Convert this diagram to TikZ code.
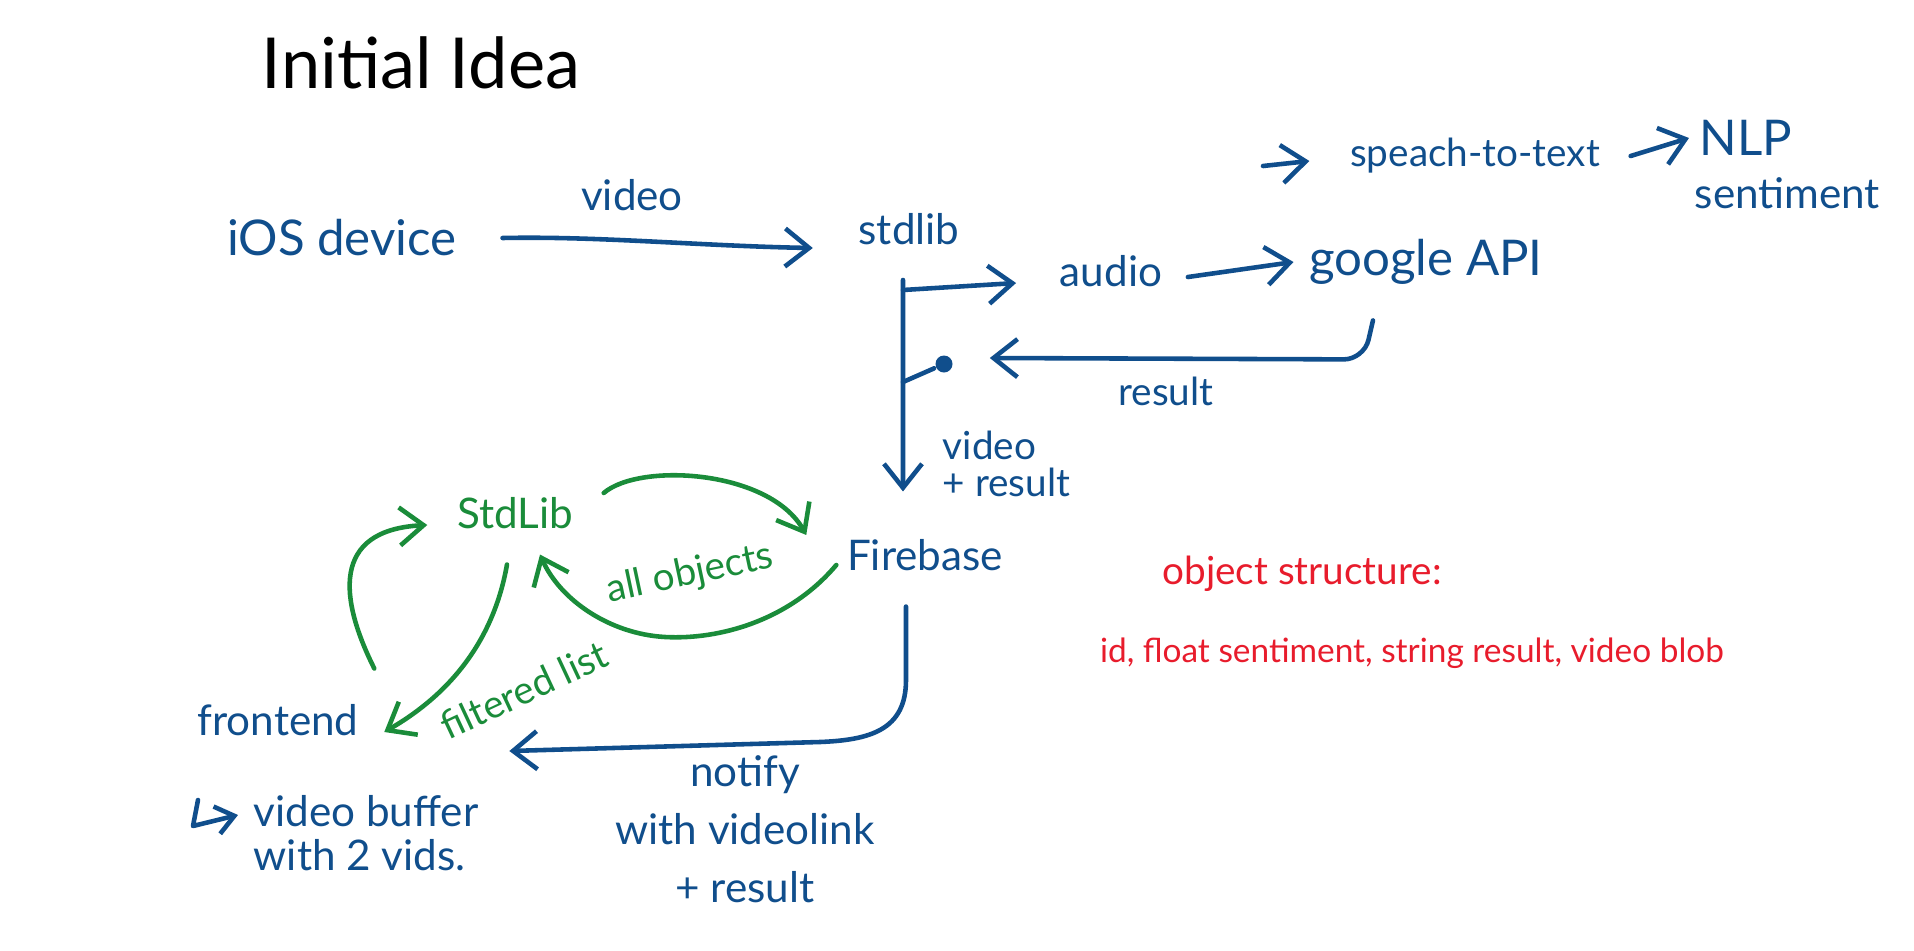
\documentclass[tikz,border=0pt]{standalone}
\usepackage{fontspec}
\setmainfont{Lato}
\usetikzlibrary{arrows.meta,positioning}
\definecolor{inkblue}{RGB}{16,78,140}
\definecolor{inkgreen}{RGB}{26,140,58}
\definecolor{inkred}{RGB}{232,28,44}

\begin{document}
\begin{tikzpicture}[x=0.01cm,y=-0.01cm,line width=1.3pt,line cap=round,line join=round,
  txt/.style={inner sep=1pt,text=inkblue,font=\fontsize{12}{14}\selectfont},
  big/.style={txt,font=\fontsize{14}{16}\selectfont},
  lbl/.style={txt,font=\fontsize{11}{13}\selectfont},
  arr/.style={draw=inkblue,-{Straight Barb[length=2.4mm,width=3.8mm]}},
  garr/.style={arr,draw=inkgreen}]
  \fill[white] (0,0) rectangle (1914,951);
  \useasboundingbox (0,0) rectangle (1914,951);

  % nodes
  \node[inner sep=1pt,font=\fontsize{20}{24}\selectfont] (title) at (421,63) {Initial Idea};
  \node[big] (ios) at (342,238) {iOS device};
  \node[txt] (stdlib) at (909,229) {stdlib};
  \node[txt] (audio) at (1111,271) {audio};
  \node[big] (google) at (1426,262) {google API};
  \node[lbl] (stt) at (1475,156) {speach-to-text};
  \node[big] (nlp) at (1746,138) {NLP};
  \node[txt,anchor=north west] (sentiment) at ([xshift=-0.5mm,yshift=-1mm]nlp.south west) {sentiment};
  \node[txt] (firebase) at (925,555) {Firebase};
  \node[txt,text=inkgreen] (stdlibg) at (515,513) {StdLib};
  \node[txt] (frontend) at (278,720) {frontend};
  \node[circle,fill=inkblue,inner sep=0pt,minimum size=1.7mm] (dot) at (944,364) {};
  \node[lbl,text=inkred] (objs) at (1302,574) {object structure:};
  \node[txt,text=inkred,font=\fontsize{9.5}{12}\selectfont] (fields) at (1412,653) {id, float sentiment, string result, video blob};

  % labels
  \node[txt] (vidlbl) at (632,195) {video};
  \node[lbl] (reslbl) at (1166,391) {result};
  \node[lbl,align=left,anchor=west,font=\fontsize{11}{10.5}\selectfont] (vrlbl) at (937,464) {video\\+ result};
  \node[lbl,text=inkgreen,rotate=12] (allobj) at (690,574) {all objects};
  \node[lbl,text=inkgreen,rotate=25] (filt) at (524,690) {filtered list};
  \node[txt,align=center,font=\fontsize{12}{16.5}\selectfont] (notify) at (745,829) {notify\\with videolink\\+ result};
  \node[txt,align=left,anchor=west,font=\fontsize{12}{12.5}\selectfont] (buffer) at (248,833) {video buffer\\with 2 vids.};

  \coordinate (br) at (903,290);
  \coordinate (brdot) at (903,382);
  \coordinate (sttin) at (1263,166);
  \coordinate (hook) at (198,800);

  % blue connectors
  \draw[arr] ([xshift=4mm]ios.east) .. controls (600,236) and (700,246) .. ([xshift=-4mm,yshift=-1.9mm]stdlib.west);
  \draw[arr] ([yshift=1mm]br) -- ([xshift=-2.2mm,yshift=4.2mm]firebase.north);
  \draw[arr] (br) -- ([xshift=-3.8mm,yshift=-1.2mm]audio.west);
  \draw[arr] ([xshift=2mm,yshift=-0.6mm]audio.east) -- ([xshift=-1mm]google.west);
  \draw[arr,rounded corners=2mm] ([xshift=-5.3mm,yshift=-3mm]google.south) -- ++(-9,39) -- ([xshift=3.5mm,yshift=0.6mm]dot.east);
  \draw[draw=inkblue] (brdot) -- (dot);
  \draw[arr] ([xshift=-1.9mm,yshift=-3mm]firebase.south) -- (906,680)
    .. controls (906,730) and (870,740) .. (820,742) -- ([xshift=14.5mm,yshift=-3.1mm]frontend.east);
  \draw[arr] (sttin) -- ([xshift=-3.5mm,yshift=-0.5mm]stt.west);
  \draw[arr] ([xshift=2.5mm]stt.east) -- ([xshift=-0.5mm]nlp.west);
  \draw[arr,-{Straight Barb[length=1.8mm,width=2.8mm]}] (hook) -- (193,826) -- ([xshift=-1mm,yshift=1.8mm]buffer.west);

  % green connectors
  \draw[garr] ([xshift=2.5mm,yshift=2mm]stdlibg.east) .. controls (640,462) and (770,470) .. ([xshift=-3.5mm,yshift=2mm]firebase.west);
  \draw[garr] ([xshift=-0.5mm,yshift=-1mm]firebase.west) .. controls (790,620) and (720,640) .. (665,637)
    .. controls (610,634) and (560,600) .. ([xshift=2.5mm,yshift=-2mm]stdlibg.south);
  \draw[garr] ([xshift=-0.8mm,yshift=-3mm]stdlibg.south) .. controls (492,650) and (440,700) .. ([xshift=2mm,yshift=-1.2mm]frontend.east);
  \draw[garr] ([xshift=1mm,yshift=3mm]frontend.north east) .. controls (340,600) and (330,530) .. ([xshift=-2.4mm,yshift=-1.2mm]stdlibg.west);
\end{tikzpicture}
\end{document}
